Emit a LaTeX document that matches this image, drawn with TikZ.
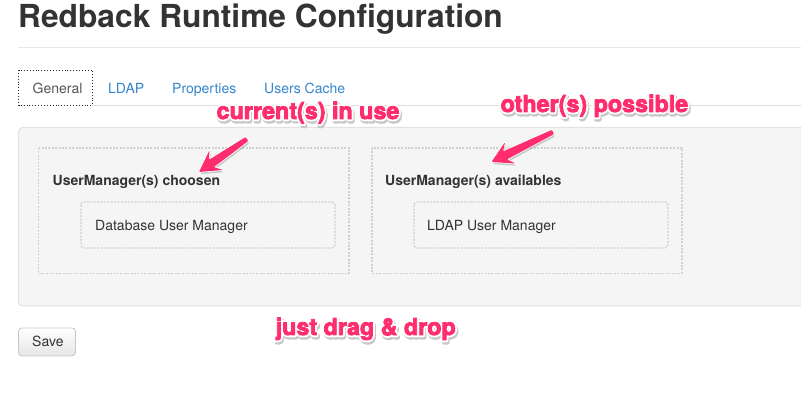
\documentclass[tikz,border=0pt]{standalone}
\usepackage{fontspec}
\setmainfont{TeX Gyre Heros}
\usetikzlibrary{calc}
\definecolor{annopink}{RGB}{255,45,110}
\definecolor{panelfill}{RGB}{245,245,245}
\definecolor{panelline}{RGB}{226,226,226}
\definecolor{dashline}{RGB}{208,208,208}
\definecolor{tabblue}{RGB}{54,135,205}
\definecolor{txt}{RGB}{51,51,51}
\definecolor{tabtxt}{RGB}{85,85,85}
\definecolor{ruleline}{RGB}{232,232,232}
\definecolor{tabline}{RGB}{221,221,221}
\newcommand\strokedtext[3]{% width, r g b, text
  \special{pdf:literal direct 2 Tr #1 w 1 j #2 RG #2 rg}#3\special{pdf:literal direct 0 Tr}}
\newcommand\annot[4]{%
  \node[annotxt, text=black!22] at (#2+1.2,#3+2.4) {\strokedtext{4.4}{0.78 0.78 0.78}{#4}};
  \node[annotxt, text=white] at (#2,#3) {\strokedtext{4.6}{1 1 1}{#4}};
  \node[annotxt, text=annopink] (#1) at (#2,#3) {\strokedtext{0.8}{1 0.176 0.431}{#4}};
}
\newcommand\skarrowpath[1]{%
  ($(#1t)!2.4pt!90:(#1p)$) -- ($(#1n)!4.4pt!90:(#1p)$) -- ($(#1b)!12pt!90:(#1p)$) -- (#1p)
  -- ($(#1b)!12pt!-90:(#1p)$) -- ($(#1n)!4.4pt!-90:(#1p)$) -- ($(#1t)!2.4pt!-90:(#1p)$) -- cycle}
\newcommand\skarrow[1]{%
  \path ($(#1p)!15pt!(#1t)$) coordinate (#1n) ($(#1p)!21pt!(#1t)$) coordinate (#1b);
  \begin{scope}[transform canvas={xshift=1.2pt,yshift=-2.2pt}]
    \fill[black, opacity=.18, rounded corners=1.5pt] \skarrowpath{#1};
  \end{scope}
  \draw[white, line width=1.4pt, line join=round] \skarrowpath{#1};
  \fill[annopink, rounded corners=1pt] \skarrowpath{#1};
}
\begin{document}
\begin{tikzpicture}[x=1pt,y=-1pt,
  annotxt/.style={anchor=base west, inner sep=0, font=\fontsize{23.3}{27}\selectfont\bfseries},
  tabtext/.style={anchor=base west, inner sep=0, font=\fontsize{14}{17}\selectfont},
  headtext/.style={anchor=base west, inner sep=0, font=\fontsize{14}{17}\selectfont\bfseries, text=txt},
  itemtext/.style={anchor=base west, inner sep=0, font=\fontsize{14}{17}\selectfont, text=txt},
  outerbox/.style={draw=dashline, line width=1.3pt, dash pattern=on 2pt off 1.4pt},
  innerbox/.style={draw=dashline, line width=1.3pt, dash pattern=on 2pt off 1.4pt, rounded corners=3pt}]
\useasboundingbox (0,0) rectangle (801,419);
\clip (0,0) rectangle (801,419);
\fill[white] (0,0) rectangle (801,419);

% title
\node[anchor=base west, inner sep=0, font=\fontsize{31.7}{36}\selectfont\bfseries, text=txt] (title) at (18,28) {Redback Runtime Configuration};
\draw[ruleline, line width=1pt] (18,48) -- (801,48);

% tabs
\draw[tabline, line width=1pt] (92,106) -- (801,106);
\draw[black!85, line width=0.9pt, dotted] (18.5,70) rectangle (92,105.5);
\node[tabtext, text=tabtxt] (tgen) at (32.5,94) {General};
\node[tabtext, text=tabblue] (tldap) at (108,94) {LDAP};
\node[tabtext, text=tabblue] (tprop) at (172,94) {Properties};
\node[tabtext, text=tabblue] (tcache) at (264,94) {Users Cache};

% panel
\draw[panelline, fill=panelfill, line width=1pt, rounded corners=4pt] (18.5,127.5) rectangle (820,306);

% boxes
\draw[outerbox] (38.5,148) rectangle (349,273.5);
\draw[innerbox] (81,202) rectangle (335,248);
\node[headtext] (h1) at (52.5,186) {UserManager(s) choosen};
\node[itemtext] (i1) at (95,231) {Database User Manager};

\draw[outerbox] (372,148) rectangle (682,273.5);
\draw[innerbox] (414,202) rectangle (668,248);
\node[headtext] (h2) at (385,186) {UserManager(s) availables};
\node[itemtext] (i2) at (427,231) {LDAP User Manager};

% save button
\draw[black!22, top color=white, bottom color=black!10, line width=0.8pt, rounded corners=3.5pt] (18.5,328) rectangle (75.5,356);
\node[itemtext] (save) at (32,347) {Save};

% annotations
\annot{acur}{216.5}{119}{current(s) in use}
\annot{aoth}{500.5}{112}{other(s) possible}
\annot{adrag}{275.5}{335}{just drag \& drop}

\coordinate (aonet) at (247,139);
\coordinate (aonep) at (199,172);
\skarrow{aone}
\coordinate (atwot) at (553,132);
\coordinate (atwop) at (491.5,162);
\skarrow{atwo}
\end{tikzpicture}
\end{document}
